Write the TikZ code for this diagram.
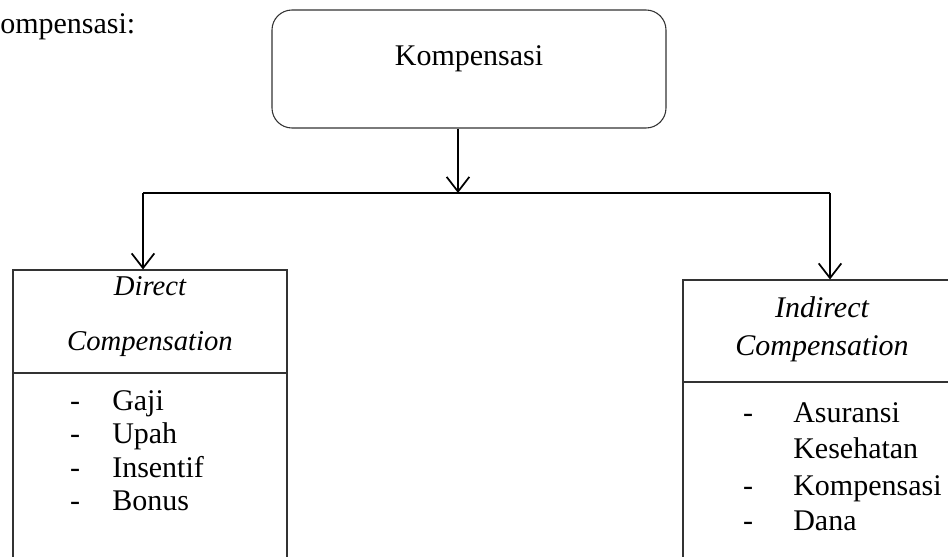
\documentclass[tikz,border=0pt]{standalone}
\usepackage{fontspec}
\setmainfont{Liberation Serif}
\usetikzlibrary{arrows.meta}
\tikzset{
  txt/.style={inner sep=0pt, font=\fontsize{22.5}{26}\selectfont, anchor=base},
  txtw/.style={txt, anchor=base west},
  ttl/.style={txt, font=\fontsize{21.5}{25}\selectfont\itshape},
  ttlr/.style={txt, font=\fontsize{22.5}{26}\selectfont\itshape},
  topbox/.style={draw=black!80, line width=0.8pt, rounded corners=15pt, minimum width=394*0.75pt, minimum height=118*0.75pt, inner sep=0pt},
  listbox/.style={draw=black!80, line width=0.8pt, inner sep=0pt},
  conn/.style={line width=1.6pt, black},
  arr/.style={line width=1.3pt, black, -{Straight Barb[length=11pt, width=17pt, line width=1.3pt]}}
}
\begin{document}
\begin{tikzpicture}[x=0.75pt, y=-0.75pt]
\useasboundingbox (0,0) rectangle (948,556);
\clip (0,0) rectangle (948,556);
% heading fragment
\node[txtw] (head) at (0,34) {ompensasi:};
% top box
\node[topbox] (top) at (469,69) {};
\node[txt] (toptxt) at (469,66) {Kompensasi};
% junction line
\coordinate (j) at (458,193);
\coordinate (jl) at (143,193);
\coordinate (jr) at (830,193);
\draw[arr] (top.south -| j) -- (j);
\draw[conn] (jl) -- (jr);
% left box
\node[listbox, minimum width=274*0.75pt, minimum height=300*0.75pt] (lb) at (150,420) {};
\draw[listbox] (lb.west |- 0,373) -- (lb.east |- 0,373);
\draw[arr] (jl) -- (lb.north -| jl);
\node[ttl] (lt1) at (150,295) {Direct};
\node[ttl] (lt2) at (150,350) {Compensation};
\node[txt] (ld1) at (75,410) {-};
\node[txtw] (li1) at (112,410) {Gaji};
\node[txt] (ld2) at (75,443) {-};
\node[txtw] (li2) at (112,443) {Upah};
\node[txt] (ld3) at (75,477) {-};
\node[txtw] (li3) at (112,477) {Insentif};
\node[txt] (ld4) at (75,510) {-};
\node[txtw] (li4) at (112,510) {Bonus};
% right box
\node[listbox, minimum width=278*0.75pt, minimum height=290*0.75pt] (rb) at (822,425) {};
\draw[listbox] (rb.west |- 0,382) -- (rb.east |- 0,382);
\draw[arr] (jr) -- (rb.north -| jr);
\node[ttlr] (rt1) at (822,317) {Indirect};
\node[ttlr] (rt2) at (822,355) {Compensation};
\node[txt] (rd1) at (748,422) {-};
\node[txtw] (ri1) at (793,422) {Asuransi};
\node[txtw] (ri2) at (793,458) {Kesehatan};
\node[txt] (rd3) at (748,495) {-};
\node[txtw] (ri3) at (793,495) {Kompensasi};
\node[txt] (rd4) at (748,530) {-};
\node[txtw] (ri4) at (793,530) {Dana};
\end{tikzpicture}
\end{document}
